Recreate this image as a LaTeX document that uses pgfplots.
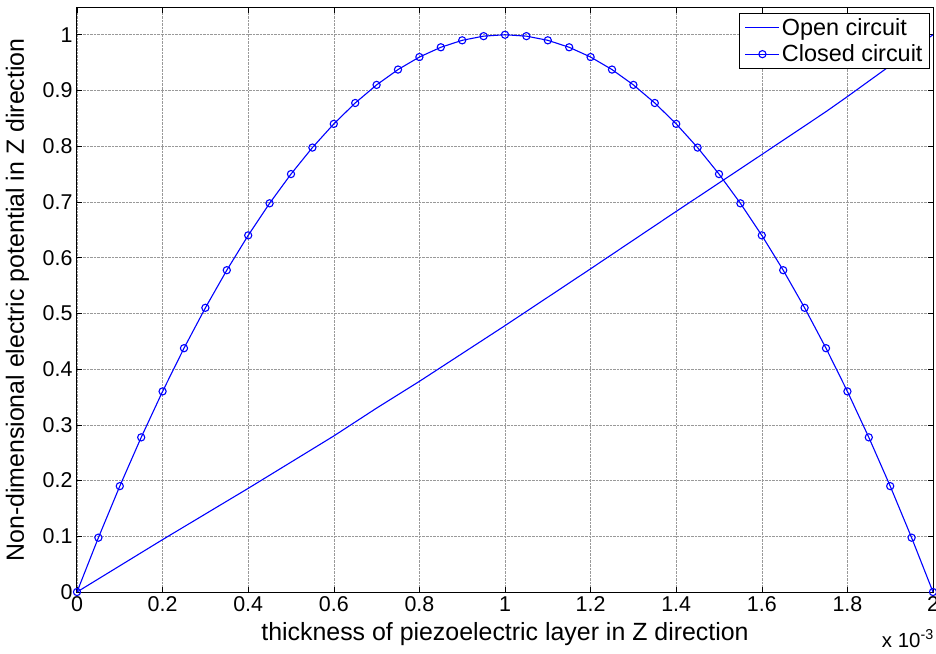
\documentclass[border=0pt]{standalone}
\usepackage{pgfplots}
\pgfplotsset{compat=1.18}
\usepackage{fontspec}
\setmainfont{Liberation Sans}
\begin{document}
\begin{tikzpicture}
\begin{axis}[
  scale only axis,
  width=856bp, height=584bp,
  xmin=0, xmax=2, ymin=0, ymax=1.048,
  xtick={0,0.2,...,2.01},
  ytick={0,0.1,...,1.01},
  xticklabels={0,0.2,0.4,0.6,0.8,1,1.2,1.4,1.6,1.8,2},
  yticklabels={0,0.1,0.2,0.3,0.4,0.5,0.6,0.7,0.8,0.9,1},
  tick align=inside,
  major tick length=5bp,
  tick style={black, line width=0.6bp},
  axis line style={black, line width=1bp},
  grid=major,
  grid style={densely dotted, gray!80, line width=0.6bp},
  tick label style={font=\fontsize{21.5}{24}\selectfont},
  xticklabel style={yshift=-1bp},
  yticklabel style={xshift=-1bp},
  xlabel={thickness of piezoelectric layer in Z direction},
  ylabel={Non-dimensional electric potential in Z direction},
  label style={font=\fontsize{25}{28}\selectfont},
  xlabel style={at={(rel axis cs:0.5,0)}, anchor=base, yshift=-48bp},
  ylabel style={at={([xshift=-53bp]rel axis cs:0,0.5)}, anchor=base},
  legend style={at={([xshift=-3bp,yshift=-5bp]rel axis cs:1,1)}, anchor=north east, draw=black, line width=1bp,
    font=\fontsize{23.5}{26}\selectfont, inner xsep=5bp, inner ysep=3bp, row sep=4bp,
    legend cell align=left},
  clip=false,
]
\addplot[blue, line width=1.1bp,
  legend image code/.code={\draw[blue, line width=1.1bp] (0bp,0bp) -- (34bp,0bp);}] coordinates {
(0,0) (0.2,0.094) (0.4,0.186) (0.6,0.280) (0.7,0.330) (0.8,0.378) (1.0,0.478)
(1.2,0.580) (1.4,0.683) (1.6,0.785) (1.75,0.862) (1.8,0.889) (2.0,1.0)};
\addlegendentry{Open circuit}
\addplot[blue, line width=1.1bp, mark=o, mark size=3.6bp, mark options={line width=1.1bp},
  legend image code/.code={\draw[blue, line width=1.1bp] (0bp,0bp) -- (34bp,0bp); \draw[blue, line width=1.1bp] (17bp,0bp) circle[radius=3.6bp];}] coordinates {
(0,0) (0.05,0.0975) (0.1,0.19) (0.15,0.2775) (0.2,0.36) (0.25,0.4375) (0.3,0.51)
(0.35,0.5775) (0.4,0.64) (0.45,0.6975) (0.5,0.75) (0.55,0.7975) (0.6,0.84)
(0.65,0.8775) (0.7,0.91) (0.75,0.9375) (0.8,0.96) (0.85,0.9775) (0.9,0.99)
(0.95,0.9975) (1.0,1.0) (1.05,0.9975) (1.1,0.99) (1.15,0.9775) (1.2,0.96)
(1.25,0.9375) (1.3,0.91) (1.35,0.8775) (1.4,0.84) (1.45,0.7975) (1.5,0.75)
(1.55,0.6975) (1.6,0.64) (1.65,0.5775) (1.7,0.51) (1.75,0.4375) (1.8,0.36)
(1.85,0.2775) (1.9,0.19) (1.95,0.0975) (2.0,0)};
\addlegendentry{Closed circuit}
\node[anchor=base east, inner sep=0pt, font=\fontsize{20.5}{24}\selectfont] at ([xshift=1bp,yshift=-55bp]rel axis cs:1,0) {x 10\textsuperscript{-3}};
\end{axis}
\pgfresetboundingbox
\path (current axis.south west) ++(-77bp,-62bp) rectangle ([xshift=3bp,yshift=8bp]current axis.north east);
\end{tikzpicture}
\end{document}
